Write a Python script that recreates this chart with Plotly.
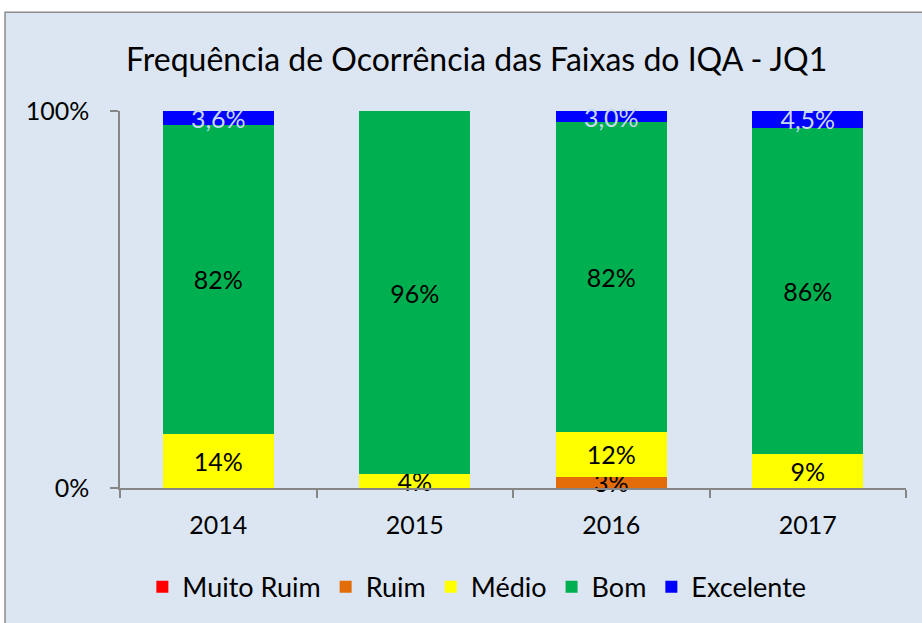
import plotly.graph_objects as go

years = ["2014", "2015", "2016", "2017"]
series_names = ["Muito Ruim", "Ruim", "Médio", "Bom", "Excelente"]
muito_ruim = [0.0, 0.0, 0.0, 0.0]
ruim = [0.0, 0.0, 3.0, 0.0]
medio = [14.3, 3.6, 11.9, 9.1]
bom = [82.1, 96.4, 82.1, 86.4]
excelente = [3.6, 0.0, 3.0, 4.5]
y_tick_vals = [0, 100]
y_tick_text = ["0%", "100%"]

colors = ["#FF0000", "#E36C09", "#FFFF00", "#00B050", "#0000FF"]
label_colors = ["#000000", "#000000", "#000000", "#000000", "#C6D9F1"]
decimals = [0, 0, 0, 0, 1]
values = [muito_ruim, ruim, medio, bom, excelente]

FONT = "Lato"

def fmt(v, d):
    if v <= 0:
        return ""
    s = f"{v:.{d}f}".replace(".", ",")
    return s + "%"

fig = go.Figure()
for name, vals, col, lc, d in zip(series_names, values, colors, label_colors, decimals):
    fig.add_trace(go.Bar(
        name=name, x=years, y=vals, marker=dict(color=col, line=dict(width=0)),
        text=[fmt(v, d) for v in vals], textposition="inside", textangle=0,
        insidetextanchor="middle", constraintext="none", cliponaxis=False,
        textfont=dict(family=FONT, size=25, color=lc), hoverinfo="skip",
    ))

fig.update_layout(
    width=922, height=623,
    barmode="stack", bargap=0.435,
    paper_bgcolor="#FFFFFF", plot_bgcolor="#DCE6F2",
    margin=dict(l=120, r=16, t=111, b=134),
    font=dict(family=FONT, size=25, color="#000000"),
    title=dict(text="Frequência de Ocorrência das Faixas do IQA - JQ1",
               x=0.517, xref="container", xanchor="center",
               y=0.904, yref="container", yanchor="middle",
               font=dict(family=FONT, size=32, color="#000000")),
    legend=dict(orientation="h", x=0.454, xanchor="center", y=-0.26, yanchor="middle",
                font=dict(family=FONT, size=27), bgcolor="rgba(0,0,0,0)",
                traceorder="normal"),
    showlegend=True,
    shapes=[dict(type="rect", xref="paper", yref="paper",
                 x0=-0.1463, x1=1.2, y0=-0.7, y1=1.2619,
                 fillcolor="#DCE6F2", line=dict(color="#8C8C8C", width=1.5),
                 layer="below")],
)
fig.update_xaxes(showline=True, linecolor="#868686", linewidth=1.5,
                 ticks="outside", tickson="boundaries", ticklen=8, tickcolor="#868686",
                 tickwidth=1.5, showgrid=False, ticklabelstandoff=14,
                 tickfont=dict(family=FONT, size=25))
fig.update_yaxes(range=[0, 100], tickvals=y_tick_vals, ticktext=y_tick_text,
                 showline=True, linecolor="#868686", linewidth=1.5,
                 ticks="outside", ticklen=8, tickcolor="#868686", tickwidth=1.5,
                 showgrid=True, gridcolor="#868686", gridwidth=1.5, zeroline=False,
                 ticklabelstandoff=16, tickfont=dict(family=FONT, size=25))

fig.write_html("out.html")
